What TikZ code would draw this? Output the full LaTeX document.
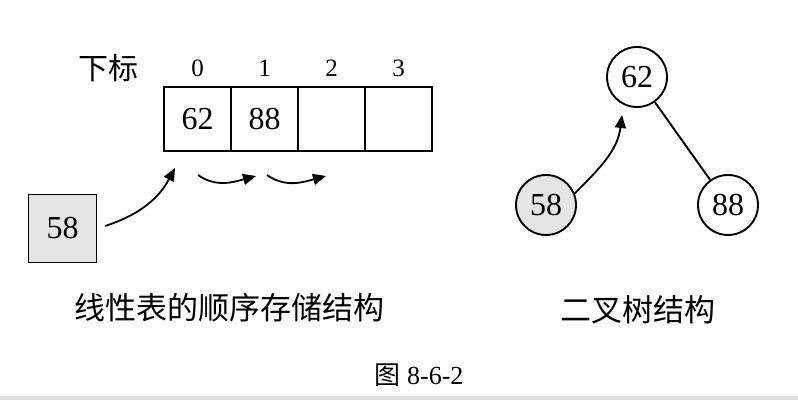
\documentclass[tikz,border=0pt]{standalone}
\usepackage{fontspec}
\setmainfont{Liberation Serif}
\newfontfamily\cjk{Noto Sans CJK SC}
\usepackage{tikz}
\usetikzlibrary{arrows.meta,positioning}

\begin{document}
\begin{tikzpicture}[x=1pt,y=1pt,line width=1.9pt,
  num/.style={font=\fontsize{32}{36}\selectfont},
  idx/.style={font=\fontsize{25}{28}\selectfont},
  zh/.style={font=\cjk\fontsize{31}{36}\selectfont},
  cell/.style={num,draw,rectangle,minimum width=67pt,minimum height=64pt,inner sep=0pt},
  key/.style={cell,fill=black!10,minimum width=68pt,minimum height=68pt},
  tnode/.style={num,draw,circle,minimum size=60pt,inner sep=0pt},
  arr/.style={-{Triangle[length=13pt,width=11pt]},line width=1.8pt}]
\useasboundingbox (0,0) rectangle (798,400);
\fill[black!12] (0,0) rectangle (798,4);
\node[zh,font=\cjk\fontsize{30}{34}\selectfont] (sub) at (108,332) {下标};
\foreach \i/\v in %
{0/62,1/88,2/,3/} {
   \node[cell] (c\i) at (197.5+67*\i,281) {\v};
   \node[idx] (i\i) at (197.5+67*\i,332) {\i};
}
\node[key] (b58) at (62.5,171.5) {58};
\coordinate (a0) at (175,232);
\draw[arr,shorten <=8pt] (b58.east) to[out=18,in=-118] (a0);
\coordinate (s1) at (198,225);
\coordinate (e1) at (256,224);
\coordinate (s2) at (267,225);
\coordinate (e2) at (326,224);
\draw[arr] (s1) to[out=-35,in=-165] (e1);
\draw[arr] (s2) to[out=-35,in=-165] (e2);
\node[tnode] (t62) at (637,323) {62};
\node[tnode,fill=black!10] (t58) at (546,195) {58};
\node[tnode] (t88) at (728,195) {88};
\draw (t62) -- (t88);
\coordinate (a1) at (622,285);
\draw[arr] (t58.22) to[out=45,in=-97] (a1);
\node[zh] (lin) at (229,92) {线性表的顺序存储结构};
\node[zh] (bt) at (638,90) {二叉树结构};
\node[font=\fontsize{26}{30}\selectfont] (fig) at (419,25) {{\cjk 图} 8-6-2};
\end{tikzpicture}
\end{document}
